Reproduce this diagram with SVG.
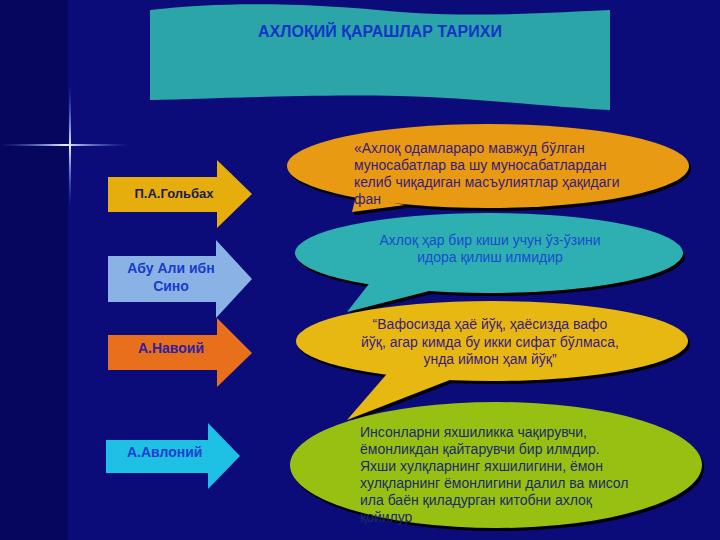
<svg xmlns="http://www.w3.org/2000/svg" width="720" height="540" viewBox="0 0 720 540">
<defs>
<style>
.t{font-family:"Liberation Sans",Arial,sans-serif;font-size:14px}
.b{font-weight:bold}
.sh{fill:#000000}
</style>
<linearGradient id="hl" x1="0" y1="0" x2="1" y2="0">
<stop offset="0" stop-color="#4a6ae0" stop-opacity="0"/>
<stop offset="0.5" stop-color="#e8f0ff" stop-opacity="1"/>
<stop offset="1" stop-color="#4a6ae0" stop-opacity="0"/>
</linearGradient>
<linearGradient id="vl" x1="0" y1="0" x2="0" y2="1">
<stop offset="0" stop-color="#4a6ae0" stop-opacity="0"/>
<stop offset="0.5" stop-color="#e8f0ff" stop-opacity="1"/>
<stop offset="1" stop-color="#4a6ae0" stop-opacity="0"/>
</linearGradient>
</defs>
<rect width="720" height="540" fill="#0b0b7a"/>
<rect width="68" height="540" fill="#06065e"/>
<g id="flare">
<rect x="0" y="144" width="130" height="2" fill="url(#hl)"/>
<rect x="69" y="85" width="2" height="122" fill="url(#vl)"/>
</g>
<g id="title">
<path d="M150,10 C220,2 300,2 400,12 C480,18 560,12 610,10 L610,110 C560,108 480,98 400,96 C300,94 220,99 150,100 Z" fill="#2ba5a8"/>
<text class="t b" x="380" y="37" text-anchor="middle" fill="#1434c8" style="font-size:16px">АХЛОҚИЙ ҚАРАШЛАР ТАРИХИ</text>
</g>
<g id="connectors"/>
<g id="arrow1">
<path d="M108,177 L217,177 L217,160 L252,194 L217,228 L217,212 L108,212 Z" fill="#e6ae0c"/>
<text class="t b" x="174" y="198" text-anchor="middle" fill="#1a1a50" style="font-size:13px">П.А.Гольбах</text>
</g>
<g id="arrow2">
<path d="M108,256 L216,256 L216,240 L252,279 L216,318 L216,302 L108,302 Z" fill="#8ab2e4"/>
<text class="t b" x="171" y="273" text-anchor="middle" fill="#1a3cc8">Абу Али ибн</text>
<text class="t b" x="171" y="291" text-anchor="middle" fill="#1a3cc8">Сино</text>
</g>
<g id="arrow3">
<path d="M108,335 L217,335 L217,318 L252,353 L217,387 L217,370 L108,370 Z" fill="#e8701c"/>
<text class="t b" x="171" y="353" text-anchor="middle" fill="#3020a0">А.Навоий</text>
</g>
<g id="arrow4">
<path d="M106,440 L208,440 L208,423 L240,456 L208,489 L208,473 L106,473 Z" fill="#1ec0e4"/>
<text class="t b" x="127" y="457" fill="#2040d0">А.Авлоний</text>
</g>
<g id="bubble2">
<g class="sh" transform="translate(2,3)">
<ellipse cx="489" cy="253" rx="194" ry="40"/>
<polygon points="372,280 433,290 347,312"/>
</g>
<g fill="#2eb0b2">
<ellipse cx="489" cy="253" rx="194" ry="40"/>
<polygon points="372,280 433,290 347,312"/>
</g>
<text class="t" x="490" y="245" text-anchor="middle" fill="#1a4ad0">Ахлоқ ҳар бир киши учун ўз-ўзини</text>
<text class="t" x="490" y="262" text-anchor="middle" fill="#1a4ad0">идора қилиш илмидир</text>
</g>
<g id="bubble1">
<g class="sh" transform="translate(2,3)">
<ellipse cx="488" cy="166" rx="201" ry="42"/>
<polygon points="356,196 405,205 352,212"/>
</g>
<g fill="#e89a12">
<ellipse cx="488" cy="166" rx="201" ry="42"/>
<polygon points="356,196 405,205 352,212"/>
</g>
<text class="t" x="354" y="153" fill="#3a1a7a">«Ахлоқ одамлараро мавжуд бўлган</text>
<text class="t" x="354" y="170" fill="#3a1a7a">муносабатлар ва шу муносабатлардан</text>
<text class="t" x="354" y="187" fill="#3a1a7a">келиб чиқадиган масъулиятлар ҳақидаги</text>
<text class="t" x="354" y="204" fill="#3a1a7a">фан</text>
</g>
<g id="bubble3">
<g class="sh" transform="translate(2,3)">
<ellipse cx="492" cy="341" rx="196" ry="40"/>
<polygon points="392,368 455,378 347,420"/>
</g>
<g fill="#e8b812">
<ellipse cx="492" cy="341" rx="196" ry="40"/>
<polygon points="392,368 455,378 347,420"/>
</g>
<text class="t" x="490" y="329" text-anchor="middle" fill="#3a1a80">“Вафосизда ҳаё йўқ, ҳаёсизда вафо</text>
<text class="t" x="490" y="347" text-anchor="middle" fill="#3a1a80">йўқ, агар кимда бу икки сифат бўлмаса,</text>
<text class="t" x="490" y="364" text-anchor="middle" fill="#3a1a80">унда иймон ҳам йўқ”</text>
</g>
<g id="bubble4">
<ellipse class="sh" cx="498" cy="468" rx="206" ry="63"/>
<ellipse cx="496" cy="465" rx="206" ry="63" fill="#98c012"/>
<text class="t" x="360" y="437" fill="#1a2a6a">Инсонларни яхшиликка чақирувчи,</text>
<text class="t" x="360" y="454" fill="#1a2a6a">ёмонликдан қайтарувчи бир илмдир.</text>
<text class="t" x="360" y="471" fill="#1a2a6a">Яхши хулқларнинг яхшилигини, ёмон</text>
<text class="t" x="360" y="488" fill="#1a2a6a">хулқларнинг ёмонлигини далил ва мисол</text>
<text class="t" x="360" y="505" fill="#1a2a6a">ила баён қиладурган китобни ахлоқ</text>
<text class="t" x="360" y="522" fill="#1a2a6a">қойилур</text>
</g>
</svg>
